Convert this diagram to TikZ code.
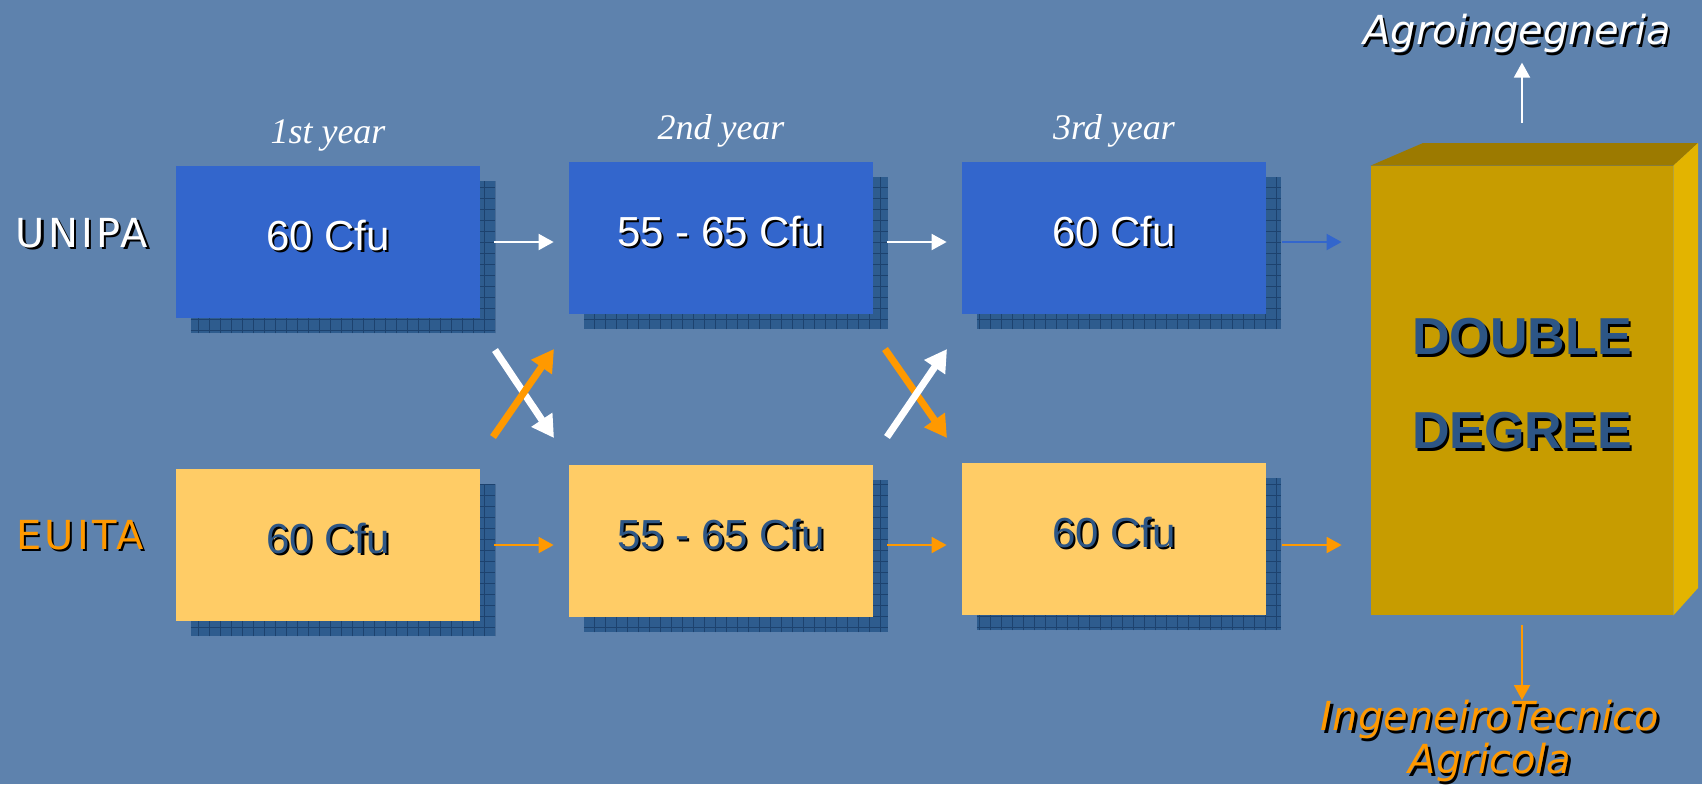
\documentclass[tikz,border=0pt]{standalone}
\usepackage{fontspec}
\setmainfont{Liberation Sans}
\newfontfamily\verdfont{DejaVu Sans}
\newfontfamily\sidefont[LetterSpace=8]{DejaVu Sans}
\newfontfamily\timesfont{Liberation Serif}
\usetikzlibrary{arrows.meta,backgrounds}
\definecolor{bgblue}{HTML}{5E82AD}
\definecolor{boxblue}{HTML}{3366CC}
\definecolor{boxyellow}{HTML}{FFCC66}
\definecolor{textblue}{HTML}{2D5686}
\definecolor{shadowfill}{HTML}{2E5C8E}
\definecolor{shadowgrid}{HTML}{1D426E}
\definecolor{ddfront}{HTML}{C79C00}
\definecolor{ddtop}{HTML}{9C7A00}
\definecolor{ddside}{HTML}{E3B400}
\definecolor{orng}{HTML}{FF9900}
% text with a small black shadow
\newcommand{\shtxt}[1]{\makebox[0pt][l]{\hspace{1.2pt}\raisebox{-1.2pt}{\color{black}#1}}#1}

\begin{document}
\begin{tikzpicture}[x=0.5pt,y=-0.5pt,
	box/.style={minimum width=152pt,minimum height=76pt,inner sep=0pt,text height=15pt,text depth=7pt,font=\fontsize{21}{25}\selectfont},
	uni/.style={box,fill=boxblue,text=white},
	eui/.style={box,fill=boxyellow,text=textblue},
	year/.style={font=\timesfont\itshape\fontsize{18}{22}\selectfont,text=white},
	side/.style={font=\sidefont\fontsize{20}{24}\selectfont},
	outlabel/.style={font=\verdfont\itshape\fontsize{20}{20.5}\selectfont,align=center},
	flow/.style={-{Triangle[length=7.5pt,width=8pt]},line width=1pt},
	cross/.style={-{Triangle[length=11pt,width=12pt]},line width=3.5pt}]
		\useasboundingbox (0,0) rectangle (1702,784);

		% year columns
		\node (y1) [year] at (328,135) {1st year};
		\node (y2) [year] at (721,131) {2nd year};
		\node (y3) [year] at (1114,131) {3rd year};

		\node (unipa) [side,text=white] at (82,234) {\shtxt{UNIPA}};
		\node (euita) [side,text=orng] at (80,536) {\shtxt{EUITA}};

		% UNIPA row
		\node (u1) [uni] at (328,242) {\shtxt{60 Cfu}};
		\node (u2) [uni] at (721,238) {\shtxt{55 - 65 Cfu}};
		\node (u3) [uni] at (1114,238) {\shtxt{60 Cfu}};

		% EUITA row
		\node (e1) [eui] at (328,545) {\shtxt{60 Cfu}};
		\node (e2) [eui] at (721,541) {\shtxt{55 - 65 Cfu}};
		\node (e3) [eui] at (1114,539) {\shtxt{60 Cfu}};

		% double degree block
		\node (dd) [fill=ddfront,minimum width=151pt,minimum height=224.5pt,inner sep=0pt,align=center,text=textblue,
			text depth=7pt,font=\bfseries\fontsize{26}{47}\selectfont] at (1522,390.5) {\shtxt{DOUBLE}\\\shtxt{DEGREE}};
		\fill[ddtop] (dd.north west) -- (1423,143) -- (1698,143) -- (dd.north east) -- cycle;
		\fill[ddside] (dd.north east) -- (1698,143) -- (1698,588) -- (dd.south east) -- cycle;

		\node (agro) [outlabel,text=white] at (1517,35) {\shtxt{Agroingegneria}};
		\node (ing) [outlabel,text=orng,anchor=north,inner sep=0pt] at (1490,700) {\shtxt{IngeneiroTecnico}\\\shtxt{Agricola}};

		% background and box shadows
		\begin{scope}[on background layer]
			\fill[bgblue] (0,0) rectangle (1702,784);
			\foreach \b in {u1,u2,u3,e1,e2,e3}{
				\begin{scope}
					\clip ([shift={(7.5pt,-7.5pt)}]\b.north west) rectangle ([shift={(7.5pt,-7.5pt)}]\b.south east);
					\fill[shadowfill] ([shift={(7.5pt,-7.5pt)}]\b.north west) rectangle ([shift={(7.5pt,-7.5pt)}]\b.south east);
					\draw[shadowgrid,step=5.5pt,line width=0.5pt] ([shift={(7.5pt,-7.5pt)}]\b.north west) grid ([shift={(7.5pt,-7.5pt)}]\b.south east);
				\end{scope}
			}
		\end{scope}

		% straight arrows
		\draw[flow,white,shorten <=7pt,shorten >=7.5pt] (u1.east) -- (u1.east -| u2.west);
		\draw[flow,white,shorten <=7pt,shorten >=7.5pt] (u2.east |- u1.east) -- (u1.east -| u3.west);
		\draw[flow,boxblue,shorten <=8pt,shorten >=14.5pt] (u3.east |- u1.east) -- (u1.east -| dd.west);
		\draw[flow,orng,shorten <=7pt,shorten >=7.5pt] (e1.east) -- (e1.east -| e2.west);
		\draw[flow,orng,shorten <=7pt,shorten >=7.5pt] (e2.east |- e1.east) -- (e1.east -| e3.west);
		\draw[flow,orng,shorten <=8pt,shorten >=14.5pt] (e3.east |- e1.east) -- (e1.east -| dd.west);
		\draw[flow,white,shorten <=21.5pt] (dd.north) -- (dd.north |- agro.south);
		\draw[flow,orng,shorten <=5pt] (dd.south) -- (dd.south |- ing.north);

		% crossing arrows
		\coordinate (w1a) at (495,350);
		\coordinate (w1b) at (554,438);
		\coordinate (o1a) at (493,437);
		\coordinate (o1b) at (554,349);
		\coordinate (o2a) at (885,349);
		\coordinate (o2b) at (947,438);
		\coordinate (w2a) at (887,437);
		\coordinate (w2b) at (947,349);
		\draw[cross,white] (w1a) -- (w1b);
		\draw[cross,orng] (o1a) -- (o1b);
		\draw[cross,orng] (o2a) -- (o2b);
		\draw[cross,white] (w2a) -- (w2b);
	\end{tikzpicture}
\end{document}
